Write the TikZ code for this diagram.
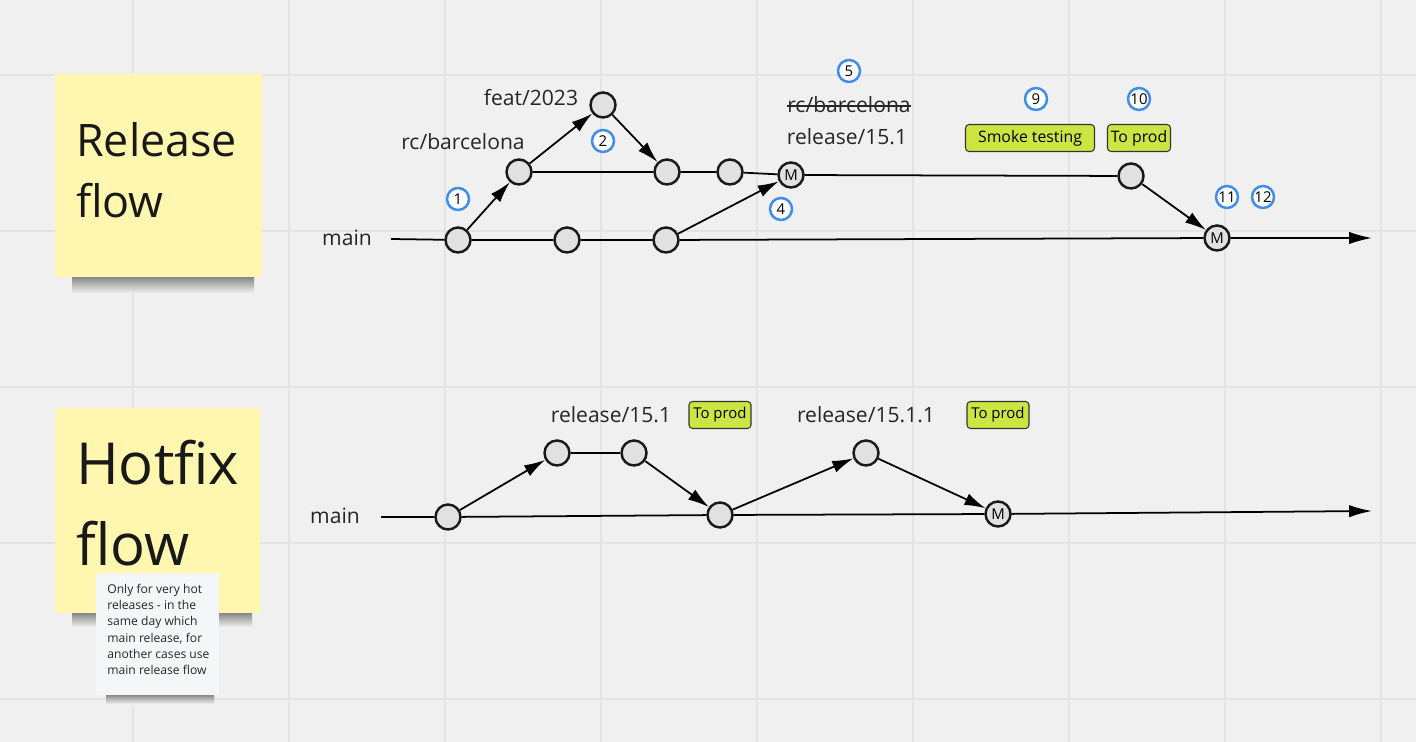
\documentclass[tikz,border=0pt]{standalone}
\usepackage{fontspec}
\setmainfont{Open Sans}
\usetikzlibrary{arrows.meta}
\definecolor{boardbg}{HTML}{F0F0F0}
\definecolor{gridline}{HTML}{E3E3E3}
\definecolor{stickyyellow}{HTML}{FFF7B0}
\definecolor{commitfill}{HTML}{E1E1E1}
\definecolor{badgeblue}{HTML}{3E8DEB}
\definecolor{taggreen}{HTML}{CDE542}
\definecolor{notecard}{HTML}{F5F6F8}
\tikzset{
  commit/.style={circle,draw=black!90,line width=1.4pt,fill=commitfill,minimum size=0.5cm,inner sep=0pt,font=\fontsize{8.5}{9}\selectfont},
  badge/.style={circle,draw=badgeblue,line width=1.4pt,fill=white,minimum size=0.44cm,inner sep=0pt,font=\fontsize{8.5}{9}\selectfont},
  tag/.style={draw=black!80,fill=taggreen,rounded corners=2pt,line width=0.6pt,minimum height=0.54cm,inner sep=0pt,font=\fontsize{9}{10}\selectfont},
  branch/.style={font=\fontsize{12}{14}\selectfont,text=black!85,inner sep=1pt},
  flow/.style={line width=1pt},
  push/.style={line width=1pt,-{Latex[length=12pt,width=7pt]}},
  sticky/.style={fill=stickyyellow},
  stickyshadow/.style={top color=black!50,bottom color=boardbg},
}
\begin{document}
\begin{tikzpicture}[x=0.02cm,y=-0.02cm]
  \useasboundingbox (0,0) rectangle (1416,742);
  \fill[boardbg] (0,0) rectangle (1416,742);
  \foreach \gx in {133,289,...,1381}
    \draw[gridline,line width=0.6pt] (\gx,0) -- (\gx,742);
  \foreach \gy in {75,231,...,699}
    \draw[gridline,line width=0.6pt] (0,\gy) -- (1416,\gy);

  % sticky notes
  \shade[stickyshadow] (72,276) rectangle (254,293);
  \fill[sticky] (55,74) rectangle (262,277);
  \node[anchor=west,align=left,font=\fontsize{25.5}{35}\selectfont,text=black!90] (relnote) at (70,170) {Release\\flow};
  \shade[stickyshadow] (72,612) rectangle (252,627);
  \fill[sticky] (55,408) rectangle (260,613);
  \node[anchor=west,align=left,font=\fontsize{33}{46}\selectfont,text=black!90] (hotnote) at (70,503) {Hotfix\\flow};
  \shade[stickyshadow] (106,694) rectangle (214,704);
  \fill[notecard] (96,573) rectangle (219,695);
  \node[anchor=north west,align=left,inner sep=0pt,font=\fontsize{6.9}{9.2}\selectfont,text=black!85] (hotcomment) at (107,584)
    {Only for very hot\\releases - in the\\same day which\\main release, for\\another cases use\\main release flow};

  % release flow
  \node[branch] (relmain) at (347,238) {main};
  \coordinate (mstart) at (391,239);
  \coordinate (mend) at (1372,238);
  \node[commit] (m1) at (458,240) {};
  \node[commit] (m2) at (567,240) {};
  \node[commit] (m3) at (666,240) {};
  \node[commit] (mM) at (1217,238) {M};
  \node[commit] (r1) at (519,172) {};
  \node[commit] (r2) at (667,172) {};
  \node[commit] (r3) at (730,172) {};
  \node[commit] (rM) at (791,175) {M};
  \node[commit] (r4) at (1131,176) {};
  \node[commit] (f1) at (603,105) {};
  \draw[flow,-{Latex[length=13pt,width=7pt]}] (mstart) -- (m1) -- (m2) -- (m3) -- (mM) -- (mend);
  \draw[flow] (r1) -- (r2) -- (r3) -- (rM) -- (r4);
  \draw[push] (m1) -- (r1);
  \draw[push] (r1) -- (f1);
  \draw[push] (f1) -- (r2);
  \draw[push] (m3) -- (rM);
  \draw[push] (r4) -- (mM);
  \node[branch] (rclabel) at (463,142) {rc/barcelona};
  \node[branch] (featlabel) at (531,98) {feat/2023};
  \node[branch] (oldlabel) at (849,105) {rc/barcelona};
  \draw[line width=0.8pt,black!85] ([xshift=1pt,yshift=-0.5pt]oldlabel.west) -- ([xshift=-1pt,yshift=-0.5pt]oldlabel.east);
  \node[branch] (rellabel) at (847,137) {release/15.1};
  \node[badge] (b1) at (458,199) {1};
  \node[badge] (b2) at (603,141) {2};
  \node[badge] (b4) at (781,209) {4};
  \node[badge] (b5) at (849,71) {5};
  \node[badge] (b9) at (1036,99) {9};
  \node[badge] (b10) at (1139,99) {10};
  \node[badge] (b11) at (1227,197) {11};
  \node[badge] (b12) at (1263,197) {12};
  \node[tag,minimum width=2.58cm] (smoke) at (1030,138) {Smoke testing};
  \node[tag,minimum width=1.26cm] (prod1) at (1139,138) {To prod};

  % hotfix flow
  \node[branch] (hotmain) at (335,516) {main};
  \coordinate (hstart) at (381,517);
  \coordinate (hend) at (1372,511);
  \node[commit] (hm1) at (448,517) {};
  \node[commit] (hm2) at (720,515) {};
  \node[commit] (hmM) at (998,514) {M};
  \node[commit] (h1) at (557,453) {};
  \node[commit] (h2) at (634,453) {};
  \node[commit] (h3) at (866,453) {};
  \draw[flow,-{Latex[length=13pt,width=7pt]}] (hstart) -- (hm1) -- (hm2) -- (hmM) -- (hend);
  \draw[flow] (h1) -- (h2);
  \draw[push] (hm1) -- (h1);
  \draw[push] (h2) -- (hm2);
  \draw[push] (hm2) -- (h3);
  \draw[push] (h3) -- (hmM);
  \node[branch] (hrel1) at (611,415) {release/15.1};
  \node[branch] (hrel2) at (866,415) {release/15.1.1};
  \node[tag,minimum width=1.24cm,font=\fontsize{8.5}{10}\selectfont] (prod2) at (720,415) {To prod};
  \node[tag,minimum width=1.24cm,font=\fontsize{8.5}{10}\selectfont] (prod3) at (998,415) {To prod};
\end{tikzpicture}
\end{document}
